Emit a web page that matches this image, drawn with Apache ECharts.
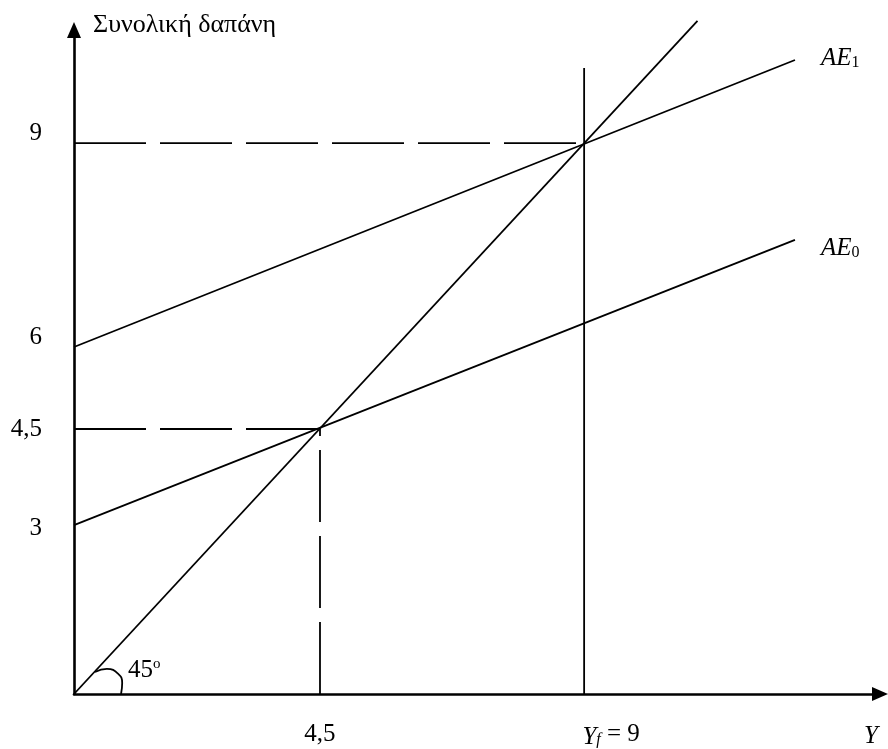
<!DOCTYPE html>
<html><head><meta charset="utf-8">
<script src="https://cdn.jsdelivr.net/npm/echarts@6/dist/echarts.min.js"></script>
<style>html,body{margin:0;padding:0;background:#fff}#c{width:888px;height:749px}</style>
</head><body><div id="c"></div>
<script>
const FONT = '"Liberation Serif", "Times New Roman", serif';
// Diagram coordinates (the sketch is not drawn to scale)
const yTickValues = [2.76, 4.33, 5.67, 9];
const yTickLabels = ['3', '4,5', '6', '9'];
const xTickValues = [4.34, 9];
const xTickLabels = ['4,5', 'Yf = 9'];
const line45 = [[0, 0], [11, 11]];
const ae1 = [[0, 5.67], [12.72, 10.36]];
const ae0 = [[0, 2.76], [12.72, 7.42]];
const fullEmployment = [[9, 0], [9, 10.23]];
const dash9 = [[0, 9], [9, 9]];
const dash45h = [[0, 4.33], [4.34, 4.33]];
const dash45v = [[4.34, 0], [4.34, 4.33]];
const arc45 = [[0.37, 0.36], [0.58, 0.41], [0.78, 0.33], [0.85, 0.18], [0.83, 0]];

const yLabelStyle = { '9': 'up', '6': 'up', '4,5': 'n', '3': 'dn' };
function nearestIdx(arr, v) {
  let best = 0;
  arr.forEach((a, i) => { if (Math.abs(a - v) < Math.abs(arr[best] - v)) best = i; });
  return best;
}

const FS = 25;
const chart = echarts.init(document.getElementById('c'), null, { renderer: 'canvas' });
const solid = { color: '#000', width: 1.8, type: 'solid' };
const dashed = { color: '#000', width: 1.8, type: [72, 14] };
function mk(name, data, style, extra) {
  return Object.assign({
    name, type: 'line', data, showSymbol: false, symbol: 'none', silent: true, clip: false,
    lineStyle: style, animation: false, z: 3
  }, extra || {});
}
chart.setOption({
  animation: false,
  backgroundColor: '#fff',
  grid: { left: 74, right: 8, top: 30, bottom: 55, containLabel: false, outerBoundsMode: 'none' },
  xAxis: {
    type: 'value', min: 0, max: 14.22,
    name: 'Y', nameLocation: 'end', nameGap: -9,
    nameTextStyle: { fontFamily: FONT, fontSize: FS, fontStyle: 'italic', color: '#000', align: 'center', verticalAlign: 'top', padding: [30, 0, 0, 0] },
    axisLine: { lineStyle: { color: '#000', width: 2.6 }, symbol: ['none', 'triangle'], symbolSize: [14, 16] },
    axisTick: { show: false },
    splitLine: { show: false },
    axisLabel: {
      customValues: xTickValues, margin: 26, color: '#000', fontFamily: FONT, fontSize: FS,
      formatter: v => {
        const t = xTickLabels[nearestIdx(xTickValues, v)];
        if (t.indexOf('Yf') === 0) return '{i|Y}{s|f}{n|' + t.slice(2) + '}';
        return '{n|' + t + '}';
      },
      rich: {
        n: { fontFamily: FONT, fontSize: FS, color: '#000', lineHeight: 28 },
        i: { fontFamily: FONT, fontSize: FS, fontStyle: 'italic', color: '#000', lineHeight: 28, padding: [6, 0, 0, 54] },
        s: { fontFamily: FONT, fontSize: 16, fontStyle: 'italic', color: '#000', lineHeight: 28, padding: [12, 0, 0, 0] }
      }
    }
  },
  yAxis: {
    type: 'value', min: 0, max: 10.85,
    name: 'Συνολική δαπάνη', nameLocation: 'end', nameGap: 5,
    nameTextStyle: { fontFamily: FONT, fontSize: 26, color: '#000', align: 'left', verticalAlign: 'middle', padding: [0, 0, 0, 19] },
    axisLine: { lineStyle: { color: '#000', width: 2.6 }, symbol: ['none', 'triangle'], symbolSize: [14, 16] },
    axisTick: { show: false },
    splitLine: { show: false },
    axisLabel: {
      customValues: yTickValues, margin: 32, color: '#000', fontFamily: FONT, fontSize: FS,
      formatter: v => {
        const t = yTickLabels[nearestIdx(yTickValues, v)];
        return '{' + yLabelStyle[t] + '|' + t + '}';
      },
      rich: {
        n: { fontFamily: FONT, fontSize: FS, color: '#000' },
        up: { fontFamily: FONT, fontSize: FS, color: '#000', padding: [0, 0, 20, 0] },
        dn: { fontFamily: FONT, fontSize: FS, color: '#000', padding: [6, 0, 0, 0] }
      }
    }
  },
  graphic: [
    { type: 'text', left: 821, top: 45, style: { text: '{i|AE}{s|1}', rich: {
      i: { fontFamily: FONT, fontSize: FS, fontStyle: 'italic', fill: '#000', lineHeight: 30 },
      s: { fontFamily: FONT, fontSize: 16, fill: '#000', lineHeight: 30, padding: [10, 0, 0, 0] } } } },
    { type: 'text', left: 821, top: 235, style: { text: '{i|AE}{s|0}', rich: {
      i: { fontFamily: FONT, fontSize: FS, fontStyle: 'italic', fill: '#000', lineHeight: 30 },
      s: { fontFamily: FONT, fontSize: 16, fill: '#000', lineHeight: 30, padding: [10, 0, 0, 0] } } } },
    { type: 'text', left: 128, top: 657, style: { text: '{n|45}{o|o}', rich: {
      n: { fontFamily: FONT, fontSize: FS, fill: '#000', lineHeight: 28 },
      o: { fontFamily: FONT, fontSize: 15, fill: '#000', lineHeight: 28, padding: [0, 0, 12, 0] } } } }
  ],
  series: [
    mk('45°', line45, solid),
    mk('AE1', ae1, solid),
    mk('AE0', ae0, solid),
    mk('Yf', fullEmployment, solid),
    mk('dash9', dash9, dashed),
    mk('dash45h', dash45h, dashed),
    mk('dash45v', dash45v, dashed),
    mk('arc', arc45, { color: '#000', width: 1.8 }, { smooth: true })
  ]
});
</script></body></html>
